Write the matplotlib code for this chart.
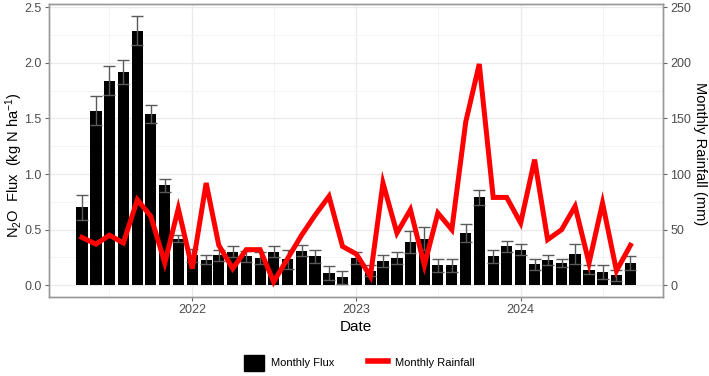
import numpy as np
import pandas as pd
import matplotlib
matplotlib.use("Agg")
import matplotlib.pyplot as plt
import matplotlib.dates as mdates
from matplotlib.patches import Patch
from matplotlib.lines import Line2D
from matplotlib.ticker import MultipleLocator

plt.rcParams['font.family'] = ['Liberation Sans', 'DejaVu Sans']
plt.rcParams['mathtext.fontset'] = 'custom'
plt.rcParams['mathtext.rm'] = 'Liberation Sans'
plt.rcParams['mathtext.it'] = 'Liberation Sans:italic'

months = pd.date_range('2021-05-01', '2024-09-01', freq='MS')

flux = [0.70, 1.57, 1.84, 1.92, 2.29, 1.54, 0.90, 0.42,
        0.27, 0.23, 0.27, 0.30, 0.26, 0.245, 0.30, 0.235, 0.31, 0.26, 0.11, 0.07,
        0.245, 0.13, 0.215, 0.245, 0.39, 0.42, 0.18, 0.18, 0.47, 0.79, 0.26, 0.35,
        0.32, 0.19, 0.23, 0.20, 0.28, 0.14, 0.12, 0.09, 0.20]
flux_se = [0.11, 0.13, 0.13, 0.11, 0.13, 0.08, 0.06, 0.035,
           0.06, 0.04, 0.05, 0.05, 0.05, 0.055, 0.05, 0.085, 0.05, 0.06, 0.06, 0.06,
           0.055, 0.05, 0.055, 0.05, 0.10, 0.10, 0.06, 0.06, 0.08, 0.07, 0.06, 0.05,
           0.05, 0.05, 0.045, 0.04, 0.09, 0.04, 0.06, 0.05, 0.06]
rain = [43, 37, 45, 38, 77, 62, 20, 69,
        15, 92, 36, 15, 32, 32, 3, 24, 45, 63, 80, 35,
        28, 8, 92, 47, 68, 18, 65, 50, 147, 199, 79, 79,
        56, 113, 41, 50, 71, 20, 74, 13, 36]

year_ticks = pd.to_datetime(['2022-01-01', '2023-01-01', '2024-01-01'])
year_labels = ['2022', '2023', '2024']
half_ticks = pd.to_datetime(['2021-07-01', '2022-07-01', '2023-07-01', '2024-07-01'])

fig = plt.figure(figsize=(7.09, 3.76), dpi=100)
ax = fig.add_axes([0.0687, 0.2109, 0.8668, 0.7785])

ax.set_axisbelow(True)
ax.bar(months, flux, width=25, color='black', edgecolor='black', linewidth=0, zorder=2)
ax.errorbar(months, flux, yerr=flux_se, fmt='none', ecolor='#5a5a5a',
            elinewidth=1.0, capsize=4.2, capthick=1.0, zorder=3)

ax.set_xlim(pd.Timestamp('2021-02-16'), pd.Timestamp('2024-11-13'))
ylo, yhi = -0.103, 2.53
ax.set_ylim(ylo, yhi)
ax.set_xticks(year_ticks)
ax.set_xticklabels(year_labels)
ax.set_xticks(half_ticks, minor=True)
ax.yaxis.set_major_locator(MultipleLocator(0.5))
ax.yaxis.set_minor_locator(MultipleLocator(0.25))
ax.yaxis.set_major_formatter(matplotlib.ticker.FormatStrFormatter('%.1f'))

ax.grid(True, which='major', color='#EBEBEB', linewidth=1.0)
ax.grid(True, which='minor', color='#F3F3F3', linewidth=0.6)
ax.tick_params(which='minor', length=0)
ax.tick_params(which='major', length=3, color='#666666', width=0.8,
               labelsize=9, labelcolor='#4D4D4D', pad=2)

for s in ax.spines.values():
    s.set_color('#999999')
    s.set_linewidth(1.0)

ax2 = ax.twinx()
ax2.plot(months, rain, color='#FF0000', linewidth=3.6, solid_joinstyle='miter', zorder=4)
ax2.set_ylim(ylo * 100, yhi * 100)
ax2.yaxis.set_major_locator(MultipleLocator(50))
ax2.tick_params(which='major', length=3, color='#666666', width=0.8,
                labelsize=9, labelcolor='#4D4D4D', pad=2)
for s in ax2.spines.values():
    s.set_color('#999999')
    s.set_linewidth(1.0)

ax.set_xlabel('Date', fontsize=11, labelpad=3)
ax.set_ylabel(r'N$_\mathregular{2}$O  Flux  (kg N ha$^\mathregular{-1}$)', fontsize=10.5)
ax.yaxis.set_label_coords(-0.039, 0.45)
ax2.set_ylabel('Monthly Rainfall (mm)', fontsize=10.5, rotation=270, va='center')
ax2.yaxis.set_label_coords(1.0597, 0.49)

handles = [Patch(facecolor='black', edgecolor='black'),
           Line2D([0], [0], color='#FF0000', linewidth=4)]
fig.legend(handles, ['Monthly Flux', 'Monthly Rainfall'], loc='center',
           bbox_to_anchor=(0.507, 0.035), ncol=2, frameon=False, fontsize=8,
           handlelength=1.8, handleheight=1.8, columnspacing=2.97, handletextpad=0.67)

fig.savefig('out.png', dpi=100)
